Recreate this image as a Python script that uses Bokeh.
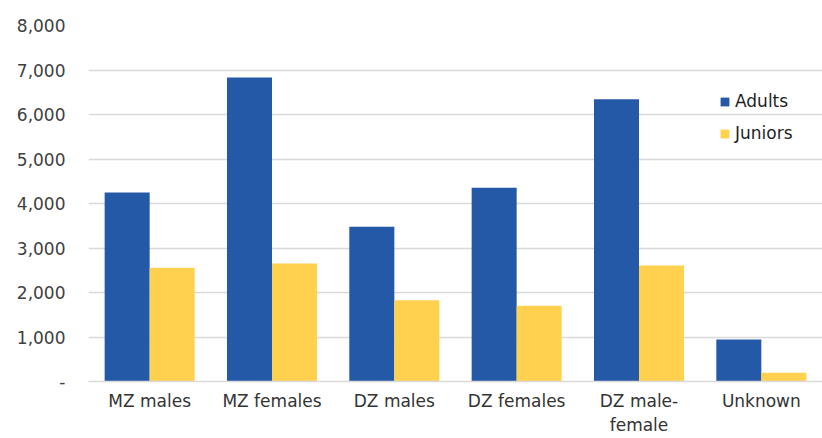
from bokeh.plotting import figure
from bokeh.models import ColumnDataSource, FixedTicker, NumeralTickFormatter, Legend, LegendItem
from bokeh.transform import dodge
from bokeh.embed import file_html
from bokeh.resources import INLINE

categories = ["MZ males", "MZ females", "DZ males", "DZ females", "DZ male-\nfemale", "Unknown"]
adults = [4250, 6830, 3480, 4355, 6345, 945]
juniors = [2555, 2650, 1825, 1705, 2605, 195]
y_ticks = [0, 1000, 2000, 3000, 4000, 5000, 6000, 7000, 8000]

FONT = "DejaVu Sans"
BLUE = "#2459A8"
YELLOW = "#FFD14F"

source = ColumnDataSource(dict(cat=categories, adults=adults, juniors=juniors))

p = figure(x_range=categories, y_range=(0, 8000), width=822, height=438,
           output_backend="svg", toolbar_location=None,
           min_border_left=88, min_border_right=0, min_border_top=25, min_border_bottom=57)
p.x_range.range_padding = 0
p.outline_line_color = None
p.background_fill_color = "white"

bw = 0.368
r1 = p.vbar(x=dodge("cat", -bw / 2, range=p.x_range), top="adults", width=bw,
            source=source, fill_color=BLUE, line_color=None)
r2 = p.vbar(x=dodge("cat", bw / 2, range=p.x_range), top="juniors", width=bw,
            source=source, fill_color=YELLOW, line_color=None)

p.xgrid.grid_line_color = None
p.ygrid.grid_line_color = "#D9D9D9"
p.ygrid.grid_line_width = 1.3

p.yaxis.ticker = FixedTicker(ticks=y_ticks)
p.yaxis.formatter = NumeralTickFormatter(format="0,0")
p.yaxis.major_label_overrides = {0: "-"}
p.yaxis.axis_line_color = None
p.yaxis.major_tick_line_color = None
p.yaxis.minor_tick_line_color = None
p.yaxis.major_tick_out = 0
p.yaxis.major_label_standoff = 23
p.yaxis.major_label_text_font = FONT
p.yaxis.major_label_text_font_size = "17px"
p.yaxis.major_label_text_color = "#404040"

p.xaxis.axis_line_color = "#D9D9D9"
p.xaxis.axis_line_width = 1.5
p.xaxis.major_tick_line_color = None
p.xaxis.minor_tick_line_color = None
p.xaxis.major_tick_out = 0
p.xaxis.major_label_standoff = 9
p.xaxis.major_label_text_font = FONT
p.xaxis.major_label_text_font_size = "17px"
p.xaxis.major_label_text_color = "#333333"

legend = Legend(items=[LegendItem(label="Adults", renderers=[r1]),
                       LegendItem(label="Juniors", renderers=[r2])],
                location=(631, 238))
legend.label_text_font = FONT
legend.label_text_font_size = "17px"
legend.label_text_color = "#1f1f1f"
legend.glyph_width = 11
legend.glyph_height = 11
legend.label_height = 20
legend.spacing = 12
legend.label_standoff = 5
legend.padding = 0
legend.margin = 0
legend.border_line_color = None
legend.background_fill_alpha = 0
p.add_layout(legend)

open("out.html", "w").write(file_html(p, INLINE))
